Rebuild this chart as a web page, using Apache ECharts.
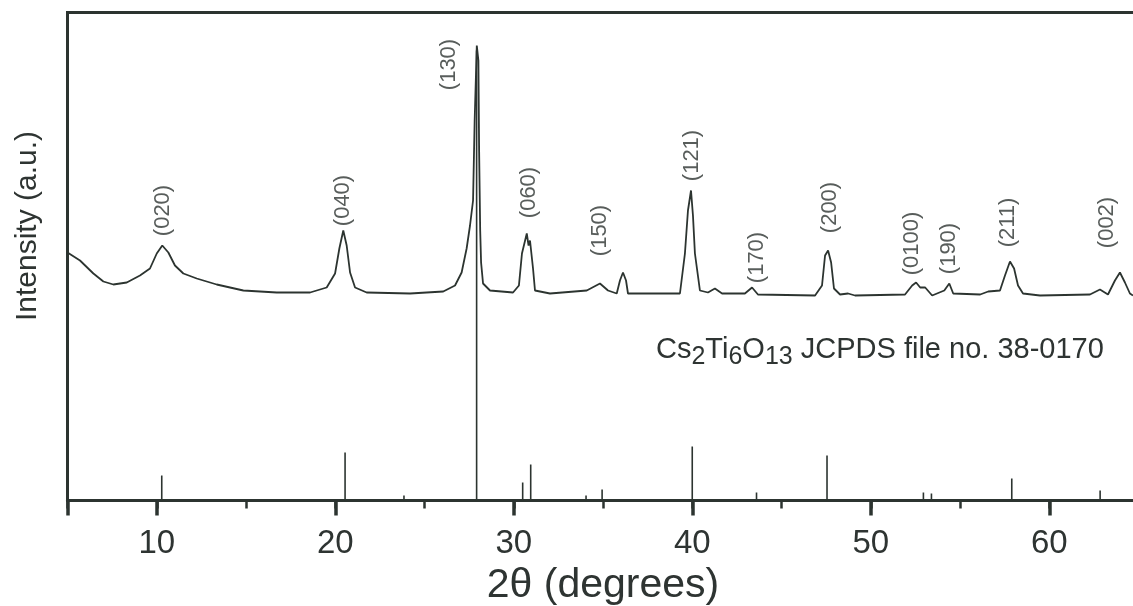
<!DOCTYPE html>
<html>
<head>
<meta charset="utf-8">
<script src="https://cdn.jsdelivr.net/npm/echarts@6/dist/echarts.min.js"></script>
<style>html,body{margin:0;padding:0;background:#fff}#c{width:1133px;height:606px}</style>
</head>
<body>
<div id="c"></div>
<script>
// XRD pattern (2θ in degrees, intensity in arbitrary units)
const patternTheta = [5.00,5.70,6.45,7.01,7.57,8.32,9.06,9.62,10.00,10.31,10.65,11.02,11.49,12.24,13.36,14.85,16.72,18.59,19.52,19.99,20.23,20.45,20.64,20.83,21.11,21.76,24.19,26.05,26.71,27.08,27.36,27.55,27.72,27.81,27.93,28.02,28.06,28.12,28.17,28.28,28.67,29.96,30.29,30.46,30.73,30.83,30.91,31.08,31.19,32.03,34.09,34.83,35.28,35.77,35.95,36.12,36.29,36.40,39.31,39.59,39.76,39.93,40.04,40.15,40.43,40.88,41.27,41.67,42.95,43.35,43.68,46.88,47.27,47.44,47.61,47.78,47.94,48.28,48.73,49.12,51.92,52.32,52.54,52.77,53.05,53.44,54.12,54.40,54.62,56.13,56.58,57.24,57.52,57.80,58.03,58.25,58.53,59.48,62.28,62.84,63.29,63.68,63.96,64.24,64.52,64.69];
const patternIntensity = [248,240,227,219,216,218,225,232,247,255,248,235,227,222,216,210,208,208,213,227,252,270,255,228,213,208,207,209,215,228,252,275,300,380,455,440,350,270,238,217,210,208,215,247,267,255,260,232,210,207,210,217,210,207,220,228,220,207,207,247,290,310,285,247,210,208,212,207,207,213,206,205,215,245,250,238,212,206,207,205,206,215,218,213,213,205,210,217,207,206,209,210,225,239,232,215,207,205,206,211,206,220,228,218,207,205];

// JCPDS 38-0170 reference lines
const stickTheta = [10.28,20.55,23.85,27.92,30.50,30.95,34.05,34.95,40.00,43.60,47.55,52.95,53.40,57.90,62.85];
const stickIntensity = [25,48,5,450,18,36,5,11,54,8,45,8,7,22,10];

// Miller-index annotations
const peakNames = ['(020)','(040)','(130)','(060)','(150)','(121)','(170)','(200)','(0100)','(190)','(211)','(002)'];
const peakLabelTheta = [10.35,20.43,26.37,30.84,34.83,39.97,43.63,47.72,52.29,54.38,57.69,63.24];
const peakLabelIntensity = [290,300,436,308,270,345,243,293,257,252,278,278];

const xTickValues = [10,20,30,40,50,60];

const lineColor = '#2c3430';
const textColor = '#2e3432';
const ff = '"Liberation Sans", Arial, Helvetica, sans-serif';

const chart = echarts.init(document.getElementById('c'), null, {renderer: 'canvas'});
chart.setOption({
  animation: false,
  backgroundColor: '#ffffff',
  title: {
    left: 651, top: 330,
    text: '{n|Cs}{s|2}{n|Ti}{s|6}{n|O}{s|13}{n| JCPDS file no. 38-0170}',
    textStyle: {
      rich: {
        n: {fontSize: 29, fontWeight: 'normal', fontFamily: ff, color: textColor, lineHeight: 29, verticalAlign: 'top'},
        s: {fontSize: 25, fontWeight: 'normal', fontFamily: ff, color: textColor, lineHeight: 25, padding: [16, 0, 0, 0]}
      }
    }
  },
  grid: {left: 67.5, top: 12.5, width: 1071, height: 488, outerBoundsMode: 'none', containLabel: false,
         show: true, borderColor: lineColor, borderWidth: 3, backgroundColor: 'transparent'},
  xAxis: [{
    type: 'value', min: 5, max: 65, position: 'bottom',
    name: '2θ (degrees)', nameLocation: 'middle', nameGap: 64,
    nameTextStyle: {fontSize: 41, fontFamily: ff, color: textColor},
    axisLine: {show: true, lineStyle: {color: lineColor, width: 3}},
    axisTick: {show: true, inside: false, length: 15, lineStyle: {color: lineColor, width: 3.5}},
    axisLabel: {show: true, margin: 27, fontSize: 33, fontFamily: ff, color: textColor,
      formatter: v => xTickValues.includes(v) ? String(v) : ''},
    splitLine: {show: false}
  }, {
    type: 'value', min: 5, max: 65, interval: 5, position: 'bottom',
    axisLine: {show: false},
    axisTick: {show: true, inside: false, length: 8, lineStyle: {color: lineColor, width: 2.5}},
    axisLabel: {show: false},
    splitLine: {show: false}
  }],
  yAxis: {
    type: 'value', min: 0, max: 488,
    axisLine: {show: false}, axisTick: {show: false}, axisLabel: {show: false}, splitLine: {show: false}
  },
  graphic: [{
    type: 'text', x: 28, y: 226, rotation: Math.PI / 2,
    style: {text: 'Intensity (a.u.)', font: '30px ' + ff, fill: textColor, align: 'center', verticalAlign: 'middle'}
  }],
  series: [{
    type: 'custom', xAxisIndex: 0,
    data: stickTheta.map((t, i) => [t, stickIntensity[i]]),
    renderItem: (params, api) => {
      const p0 = api.coord([api.value(0), 0]);
      const p1 = api.coord([api.value(0), api.value(1)]);
      return {type: 'line', shape: {x1: p0[0], y1: p0[1], x2: p1[0], y2: p1[1]},
              style: {stroke: lineColor, lineWidth: 1.6}};
    },
    silent: true
  }, {
    type: 'line', xAxisIndex: 0,
    data: patternTheta.map((t, i) => [t, patternIntensity[i]]),
    showSymbol: false, symbol: 'none', smooth: false,
    lineStyle: {color: lineColor, width: 1.8},
    silent: true
  }, {
    type: 'scatter', xAxisIndex: 0, symbolSize: 1,
    itemStyle: {color: 'transparent'},
    data: peakNames.map((n, i) => ({name: n, value: [peakLabelTheta[i], peakLabelIntensity[i]]})),
    label: {show: true, position: 'inside', rotate: 90, formatter: '{b}', fontSize: 22, fontFamily: ff, color: textColor},
    silent: true
  }]
});
</script>
</body>
</html>
